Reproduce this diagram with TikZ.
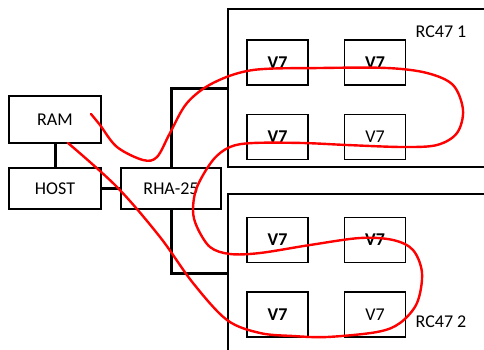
\documentclass[tikz,border=0pt]{standalone}
\usepackage{fontspec}
\setmainfont{Carlito}
\usepackage{tikz}

\tikzset{
	box/.style={draw, line width=1.3pt, inner sep=0pt, font=\fontsize{18}{21}\selectfont},
	unit/.style={box, minimum width=61pt, minimum height=45pt},
	rack/.style={draw, line width=1.3pt, minimum width=272pt, minimum height=158pt},
	bus/.style={line width=3pt},
	cable/.style={red, line width=2.4pt, line cap=round},
	tag/.style={font=\fontsize{18}{21}\selectfont}
}

\begin{document}
\begin{tikzpicture}[x=1pt,y=-1pt]
	\useasboundingbox (0,0) rectangle (484,349);
	\clip (0,0) rectangle (484,349);
	\node [rack] (rc1) at (364,88) {};
	\node [rack] (rc2) at (364,273) {};
	\node [tag] (rc1label) at (441,32) {RC47 1};
	\node [tag] (rc2label) at (441,322) {RC47 2};
	\node [box, minimum width=92pt, minimum height=47pt] (ram) at (55,119.5) {RAM};
	\node [box, minimum width=92pt, minimum height=41pt] (host) at (55,188.5) {HOST};
	\node [box, minimum width=100pt, minimum height=41pt] (rha) at (171,188.5) {RHA-25};
	\node [unit] (u11) at (277.5,62.5) {\textbf{V7}};
	\node [unit] (u12) at (375,62.5) {\textbf{V7}};
	\node [unit] (u13) at (277.5,137) {\textbf{V7}};
	\node [unit] (u14) at (375,137) {V7};
	\node [unit] (u21) at (277.5,240) {\textbf{V7}};
	\node [unit] (u22) at (375,240) {\textbf{V7}};
	\node [unit] (u23) at (277.5,314.5) {\textbf{V7}};
	\node [unit] (u24) at (375,314.5) {V7};
	\draw [bus] (ram) -- (host);
	\draw [bus] (host) -- (rha);
	\draw [bus] (rha.north) |- (rc1.west);
	\draw [bus] (rha.south) |- (rc2.west);
	\draw [cable] plot [smooth, tension=0.55] coordinates {
		(91,114) (100,125) (117,147) (143,160) (157,157) (170,133) (187,103) (213,83)
		(253,70) (320,68) (387,68) (427,73) (453,85) (463,110) (457,133) (437,145)
		(403,147) (347,145) (303,143) (253,143) (230,147) (213,160) (197,187) (193,210)
		(197,227) (210,247) (230,254) (260,253) (310,245) (360,238) (393,240) (413,250)
		(422,273) (417,303) (400,323) (377,332) (327,337) (293,336) (260,333) (227,320)
		(193,283) (160,237) (117,187) (68,143)};
\end{tikzpicture}
\end{document}
